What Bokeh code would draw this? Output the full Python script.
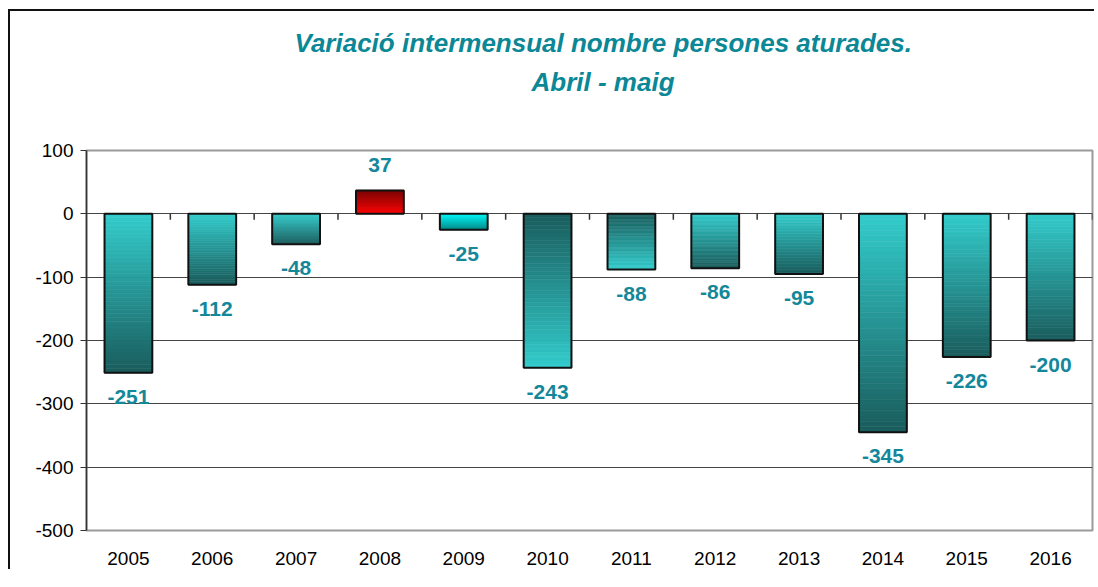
from bokeh.plotting import figure
from bokeh.models import ColumnDataSource, FactorRange, Title, FixedTicker
from bokeh.transform import dodge
from bokeh.core.properties import value
from bokeh.embed import file_html
from bokeh.resources import INLINE

# ---------------- data ----------------
years = ["2005", "2006", "2007", "2008", "2009", "2010",
         "2011", "2012", "2013", "2014", "2015", "2016"]
values = [-251, -112, -48, 37, -25, -243, -88, -86, -95, -345, -226, -200]
title_line1 = "Variació intermensual nombre persones aturades."
title_line2 = "Abril - maig"
y_ticks = [-500, -400, -300, -200, -100, 0, 100]

# ---------------- styles ----------------
LIGHT = "#33CCCC"
DARK = "#1A5C5C"
grad_start = [LIGHT, LIGHT, LIGHT, "#FF0000", "#00FFFF", DARK,
              DARK, LIGHT, LIGHT, LIGHT, LIGHT, LIGHT]
grad_end = [DARK, DARK, DARK, "#7A0000", "#008C8C", LIGHT,
            LIGHT, DARK, DARK, DARK, DARK, DARK]
TITLE_COLOR = "#0B8796"
LABEL_COLOR = "#14879A"
FONT = "Liberation Sans"
N_SLICES = 40
BAR_W = 0.57


def hex2rgb(h):
    h = h.lstrip("#")
    return tuple(int(h[i:i + 2], 16) for i in (0, 2, 4))


def mix(c0, c1, t):
    a, b = hex2rgb(c0), hex2rgb(c1)
    return "#%02x%02x%02x" % tuple(round(a[i] + (b[i] - a[i]) * t) for i in range(3))


# gradient slices built from the values
sx, sb, st, sc = [], [], [], []
for yr, v, c0, c1 in zip(years, values, grad_start, grad_end):
    for k in range(N_SLICES):
        sx.append(yr)
        sb.append(v * k / N_SLICES)
        st.append(v * (k + 1) / N_SLICES)
        sc.append(mix(c0, c1, (k + 0.5) / N_SLICES))
slices = ColumnDataSource(dict(x=sx, bottom=sb, top=st, color=sc))

bars = ColumnDataSource(dict(
    year=years,
    value=values,
    label=[str(v) for v in values],
    yoff=[24 if v < 0 else -25 for v in values],
))

p = figure(
    x_range=FactorRange(*years, range_padding=0),
    y_range=(-500, 100),
    width=1086, height=560,
    output_backend="svg", toolbar_location=None,
    min_border_left=76, min_border_right=4,
    min_border_top=139, min_border_bottom=41,
    background_fill_color="white", border_fill_color="white",
)
p.styles = {"border-left": "2px solid #111111", "border-top": "2px solid #111111",
            "margin-left": "8px", "margin-top": "9px"}

p.outline_line_color = "#9A9A9A"
p.outline_line_width = 2

# gradient bars
p.vbar(x="x", top="top", bottom="bottom", width=BAR_W, source=slices,
       fill_color="color", line_color="color", line_width=0.6)
# outlines
p.vbar(x="year", top=0, bottom="value", width=BAR_W, source=bars,
       fill_color=None, line_color="#111111", line_width=2)

# category boundary ticks on the zero line
tick_len = 6 * 600 / 380
p.segment(x0=dodge("year", 0.5, range=p.x_range), x1=dodge("year", 0.5, range=p.x_range),
          y0=0, y1=-tick_len, source=bars, line_color="#333333", line_width=1.5)

# data labels
p.text(x="year", y="value", text="label", y_offset="yoff", source=bars,
       text_align="center", text_baseline="middle",
       text_font=value(FONT), text_font_size="21px", text_font_style="bold",
       text_color=LABEL_COLOR)

# axes
p.yaxis.ticker = FixedTicker(ticks=y_ticks)
p.yaxis.major_label_overrides = {t: str(t) for t in y_ticks}
p.yaxis.major_label_text_font = FONT
p.yaxis.major_label_text_font_size = "19px"
p.yaxis.major_label_text_color = "black"
p.yaxis.axis_line_color = "#333333"
p.yaxis.axis_line_width = 1.5
p.yaxis.major_tick_line_color = "#333333"
p.yaxis.major_tick_out = 6
p.yaxis.major_tick_in = 0
p.yaxis.minor_tick_line_color = None
p.yaxis.major_label_standoff = 7

p.xaxis.axis_line_color = None
p.xaxis.major_tick_line_color = None
p.xaxis.minor_tick_line_color = None
p.xaxis.major_label_text_font = FONT
p.xaxis.major_label_text_font_size = "19px"
p.xaxis.major_label_text_color = "black"
p.xaxis.major_label_standoff = 15

p.xgrid.grid_line_color = None
p.ygrid.grid_line_color = "#444444"
p.ygrid.grid_line_width = 1

# titles (first added sits closest to the frame)
spacer = Title(text=" ", text_font=FONT, text_font_size="26px", standoff=18)
t2 = Title(text=title_line2, align="left", offset=445,
           text_font=FONT, text_font_size="26px", text_font_style="bold italic",
           text_color=TITLE_COLOR, standoff=7)
t1 = Title(text=title_line1, align="left", offset=208,
           text_font=FONT, text_font_size="26px", text_font_style="bold italic",
           text_color=TITLE_COLOR, standoff=7)
p.title = None
p.add_layout(spacer, "above")
p.add_layout(t2, "above")
p.add_layout(t1, "above")

open("out.html", "w").write(file_html(p, INLINE))
